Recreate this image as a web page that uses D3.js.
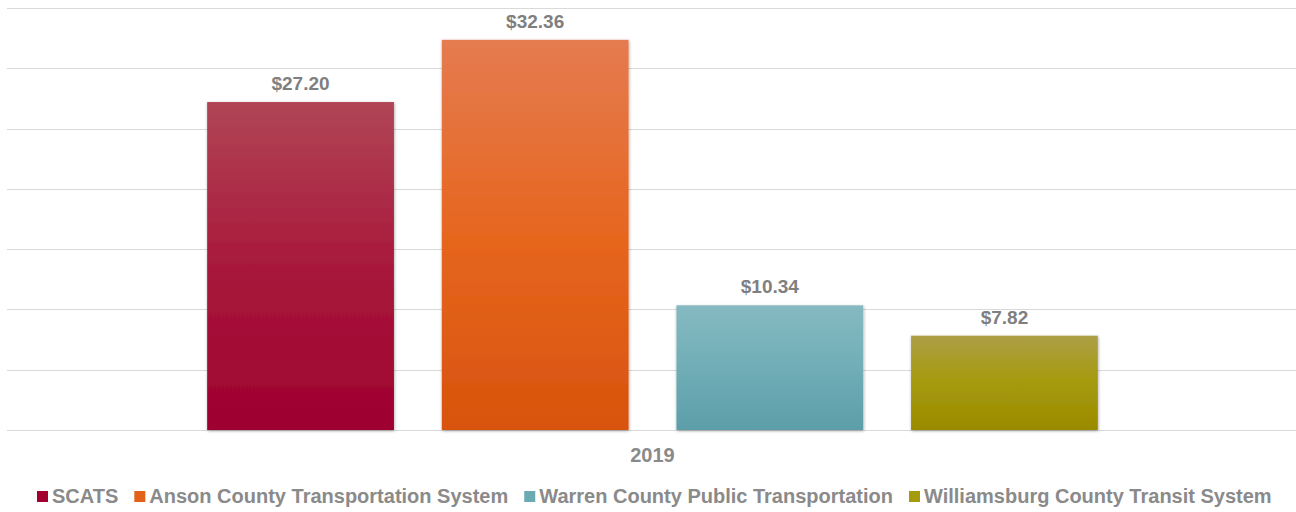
<!DOCTYPE html>
<html><head><meta charset="utf-8">
<script src="https://cdn.jsdelivr.net/npm/d3@7"></script>
<style>body{margin:0;background:#fff;font-family:"Liberation Sans",Arial,sans-serif;}</style>
</head><body>
<svg id="c" width="1296" height="512"></svg>
<script>
const categories = ["2019"];
const series = ["SCATS","Anson County Transportation System","Warren County Public Transportation","Williamsburg County Transit System"];
const values = [27.20, 32.36, 10.34, 7.82];
const yTicks = [0,5,10,15,20,25,30,35];
const colors = [
  ["#b04556","#a8193b","#9e0030"],
  ["#e57b50","#e6661f","#d8530d"],
  ["#86b9c1","#70aeb7","#5c9ea8"],
  ["#ad9f46","#a59a0c","#9a8a00"]
];
const legendColors = ["#a3002f","#e3621a","#6aaab3","#a59a0c"];

(function(){
const svg = d3.select("#c");
const pLeft = 7, pRight = 1296, pTop = 8, pBottom = 430;
const y = d3.scaleLinear().domain([0,35]).range([pBottom, pTop]);
const x0 = d3.scaleBand().domain(categories).range([pLeft + 2, pRight]).paddingOuter(0.2225).paddingInner(0);
const x1 = d3.scaleBand().domain(series).range([0, x0.bandwidth()]).paddingInner(0.204).paddingOuter(0);

const defs = svg.append("defs");
colors.forEach((c,i)=>{
  const g = defs.append("linearGradient").attr("id","g"+i).attr("x1",0).attr("y1",0).attr("x2",0).attr("y2",1);
  g.append("stop").attr("offset","0%").attr("stop-color",c[0]);
  g.append("stop").attr("offset","50%").attr("stop-color",c[1]);
  g.append("stop").attr("offset","100%").attr("stop-color",c[2]);
});
const f = defs.append("filter").attr("id","sh").attr("x","-10%").attr("y","-10%").attr("width","130%").attr("height","130%");
f.append("feDropShadow").attr("dx",0.5).attr("dy",1).attr("stdDeviation",1.8).attr("flood-color","#000").attr("flood-opacity",0.35);

svg.append("g").selectAll("line").data(yTicks).join("line")
  .attr("x1",pLeft).attr("x2",pRight)
  .attr("y1",d=>Math.round(y(d))+0.5).attr("y2",d=>Math.round(y(d))+0.5)
  .attr("stroke","#d9d9d9").attr("stroke-width",1.2);

const g = svg.append("g").attr("transform",`translate(${x0("2019")},0)`);
g.selectAll("rect").data(series).join("rect")
  .attr("x",d=>x1(d)).attr("width",x1.bandwidth())
  .attr("y",(d,i)=>y(values[i])).attr("height",(d,i)=>y(0)-y(values[i]))
  .attr("fill",(d,i)=>`url(#g${i})`).attr("filter","url(#sh)");

g.selectAll("text").data(series).join("text")
  .attr("x",d=>x1(d)+x1.bandwidth()/2).attr("y",(d,i)=>y(values[i])-12)
  .attr("text-anchor","middle").attr("font-size",19).attr("font-weight","bold")
  .attr("fill","#7f7f7f").text((d,i)=>"$"+values[i].toFixed(2));

svg.append("text").attr("x",x0("2019")+x0.bandwidth()/2).attr("y",462)
  .attr("text-anchor","middle").attr("font-size",20).attr("font-weight","bold")
  .attr("fill","#8a8a8a").text(categories[0]);

const lg = svg.append("g");
let lx = 37;
series.forEach((s,i)=>{
  lg.append("rect").attr("x",lx).attr("y",491).attr("width",11).attr("height",11).attr("fill",legendColors[i]);
  const t = lg.append("text").attr("x",lx+15).attr("y",503).attr("font-size",20).attr("font-weight","bold")
    .attr("fill","#8a8a8a").text(s);
  lx += 15 + t.node().getComputedTextLength() + 16;
});
})();
</script>
</body></html>
